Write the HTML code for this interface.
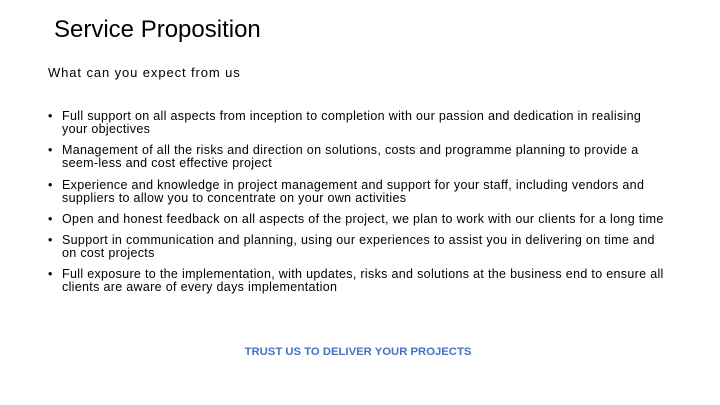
<!DOCTYPE html>
<html><head><meta charset="utf-8"><style>
body{margin:0;width:720px;height:405px;background:#fff;position:relative;overflow:hidden;font-family:"Liberation Sans",sans-serif;color:#000}
.t{position:absolute;white-space:nowrap}
.title{left:54px;top:16px;font-size:24px}
.sub{left:48px;top:65px;font-size:13px;letter-spacing:0.9px}
.b{position:absolute;left:48px;font-size:12.5px;line-height:13px;letter-spacing:0.32px}
.b span.dot{position:absolute;left:0;top:0}
.b div{margin-left:14px;white-space:nowrap}
.foot{left:0;width:716px;text-align:center;top:346px;font-size:11.3px;font-weight:bold;color:#4472c4}
</style></head><body>
<div class="t title">Service Proposition</div>
<div class="t sub">What can you expect from us</div>
<div class="b" style="top:110px"><span class="dot">•</span><div>Full support on all aspects from inception to completion with our passion and dedication in realising<br>your objectives</div></div>
<div class="b" style="top:144px"><span class="dot">•</span><div>Management of all the risks and direction on solutions, costs and programme planning to provide a<br>seem-less and cost effective project</div></div>
<div class="b" style="top:179px"><span class="dot">•</span><div>Experience and knowledge in project management and support for your staff, including vendors and<br>suppliers to allow you to concentrate on your own activities</div></div>
<div class="b" style="top:213px"><span class="dot">•</span><div>Open and honest feedback on all aspects of the project, we plan to work with our clients for a long time</div></div>
<div class="b" style="top:234px"><span class="dot">•</span><div>Support in communication and planning, using our experiences to assist you in delivering on time and<br>on cost projects</div></div>
<div class="b" style="top:268px"><span class="dot">•</span><div>Full exposure to the implementation, with updates, risks and solutions at the business end to ensure all<br>clients are aware of every days implementation</div></div>
<div class="t foot">TRUST US TO DELIVER YOUR PROJECTS</div>
</body></html>
